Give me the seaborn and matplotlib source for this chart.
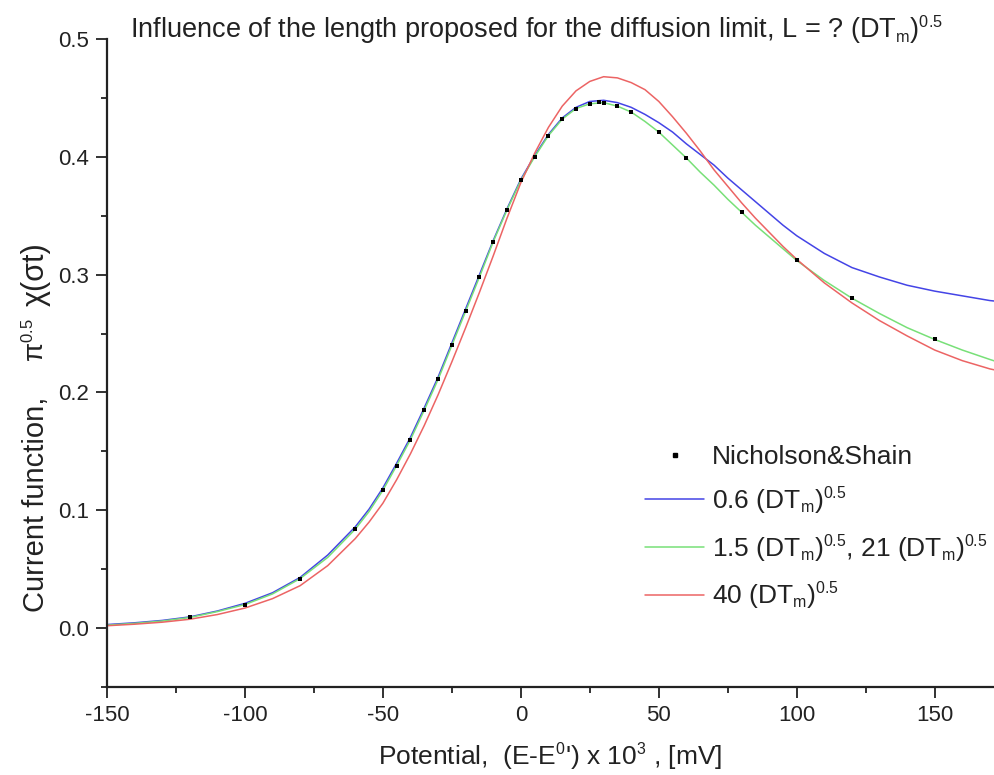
import numpy as np
import pandas as pd
import matplotlib
matplotlib.use("Agg")
import matplotlib.pyplot as plt
import matplotlib._mathtext as _mt
from matplotlib.ticker import MultipleLocator, FormatStrFormatter
from matplotlib.lines import Line2D
import seaborn as sns

# smaller sub/superscripts, like the reference
_mt.SHRINK_FACTOR = 0.6

# ---------------- data ----------------
ns_x = [-120, -100, -80, -60, -50, -45, -40, -35, -30, -25, -20, -15, -10, -5, 0,
        5, 10, 15, 20, 25, 28.5, 30, 35, 40, 50, 60, 80, 100, 120, 150]
ns_y = [0.009, 0.020, 0.042, 0.084, 0.117, 0.138, 0.160, 0.185, 0.211, 0.240, 0.269,
        0.298, 0.328, 0.355, 0.380, 0.400, 0.418, 0.432, 0.441, 0.445, 0.4463, 0.446,
        0.443, 0.438, 0.421, 0.399, 0.353, 0.312, 0.280, 0.245]

curve_x = [-150, -140, -130, -120, -110, -100, -90, -80, -70, -60, -55, -50, -45, -40,
           -35, -30, -25, -20, -15, -10, -5, 0, 5, 10, 15, 20, 25, 30, 35, 40, 45, 50,
           55, 60, 65, 70, 75, 80, 85, 90, 95, 100, 110, 120, 130, 140, 150, 160, 170, 172]

blue_y = [0.003, 0.0045, 0.0065, 0.0095, 0.0145, 0.021, 0.030, 0.043, 0.062, 0.086,
          0.101, 0.119, 0.140, 0.162, 0.187, 0.213, 0.242, 0.271, 0.300, 0.329, 0.356,
          0.381, 0.401, 0.419, 0.433, 0.442, 0.447, 0.448, 0.446, 0.442, 0.436, 0.429,
          0.421, 0.411, 0.402, 0.393, 0.382, 0.372, 0.362, 0.352, 0.342, 0.333, 0.318,
          0.306, 0.298, 0.291, 0.286, 0.282, 0.278, 0.2775]

green_y = [0.0025, 0.004, 0.006, 0.009, 0.014, 0.020, 0.029, 0.042, 0.060, 0.084,
           0.099, 0.117, 0.138, 0.160, 0.185, 0.211, 0.240, 0.269, 0.298, 0.328, 0.355,
           0.380, 0.400, 0.418, 0.432, 0.441, 0.445, 0.446, 0.443, 0.438, 0.430, 0.421,
           0.410, 0.399, 0.387, 0.376, 0.364, 0.353, 0.342, 0.332, 0.322, 0.312, 0.295,
           0.280, 0.267, 0.255, 0.245, 0.236, 0.228, 0.2265]

red_y = [0.002, 0.0033, 0.005, 0.0075, 0.0115, 0.017, 0.025, 0.036, 0.053, 0.076,
         0.090, 0.106, 0.126, 0.148, 0.172, 0.198, 0.226, 0.255, 0.285, 0.316, 0.348,
         0.378, 0.403, 0.425, 0.443, 0.456, 0.464, 0.468, 0.467, 0.463, 0.457, 0.447,
         0.434, 0.420, 0.405, 0.389, 0.375, 0.361, 0.348, 0.336, 0.324, 0.313, 0.293,
         0.276, 0.261, 0.248, 0.236, 0.227, 0.220, 0.219]

x_ticks = [-150, -100, -50, 0, 50, 100, 150]
y_ticks = [0.0, 0.1, 0.2, 0.3, 0.4, 0.5]

lab_ns = "Nicholson&Shain"
lab_blue = r"0.6 (DT$_\mathregular{m}$)$^\mathregular{0.5}$"
lab_green = r"1.5 (DT$_\mathregular{m}$)$^\mathregular{0.5}$, 21 (DT$_\mathregular{m}$)$^\mathregular{0.5}$"
lab_red = r"40 (DT$_\mathregular{m}$)$^\mathregular{0.5}$"

# ---------------- style ----------------
sns.set_style("ticks")
plt.rcParams["font.family"] = ["Liberation Sans", "DejaVu Sans"]
plt.rcParams["mathtext.fontset"] = "custom"
plt.rcParams["mathtext.rm"] = "Liberation Sans"
plt.rcParams["mathtext.it"] = "Liberation Sans:italic"
plt.rcParams["mathtext.bf"] = "Liberation Sans:bold"
plt.rcParams["axes.unicode_minus"] = False

TXT = "#222222"
fig = plt.figure(figsize=(9.94, 7.75), dpi=100)
ax = fig.add_axes([107 / 994, 1 - 687 / 775, 887 / 994, (687 - 39) / 775])

df = pd.DataFrame({
    "x": curve_x * 3,
    "y": blue_y + green_y + red_y,
    "series": [lab_blue] * len(curve_x) + [lab_green] * len(curve_x) + [lab_red] * len(curve_x),
})
palette = {lab_blue: "#4444e6", lab_green: "#78e078", lab_red: "#ec6464"}

sns.lineplot(data=df, x="x", y="y", hue="series", palette=palette, ax=ax,
             linewidth=1.1, sort=False, estimator=None, legend=False)
sns.scatterplot(x=ns_x, y=ns_y, ax=ax, color="black", marker="s", s=10,
                linewidth=0, zorder=5, legend=False)

ax.set_xlim(-150, 171.5)
ax.set_ylim(-0.05, 0.5)
ax.set_xticks(x_ticks)
ax.set_yticks(y_ticks)
ax.xaxis.set_minor_locator(MultipleLocator(25))
ax.yaxis.set_minor_locator(MultipleLocator(0.05))
ax.yaxis.set_major_formatter(FormatStrFormatter("%.1f"))
ax.tick_params(which="major", direction="out", length=8, width=1.3, labelsize=16,
               color=TXT, labelcolor=TXT, pad=5)
ax.tick_params(which="minor", direction="out", length=4, width=1.3, color=TXT)
for s in ["top", "right"]:
    ax.spines[s].set_visible(False)
for s in ["left", "bottom"]:
    ax.spines[s].set_linewidth(1.6)
    ax.spines[s].set_color(TXT)

ax.set_ylabel("")
ax.set_xlabel(r"Potential,  (E-E$^\mathregular{0}$') x 10$^\mathregular{3}$ , [mV]",
              fontsize=19, labelpad=11, color=TXT)

# y label in pieces (rotated), as in the reference
def ytext(s, ypix, size):
    fig.text(44 / 994, 1 - ypix / 775, s, rotation=90, rotation_mode="anchor",
             ha="left", va="baseline", fontsize=size, color=TXT)

ytext("Current function,", 612, 21)
ytext("\u03c0$^\\mathregular{0.5}$", 362, 20)
ytext("\u03c7(\u03c3t)", 306, 22)

fig.text(130 / 994, 1 - 38 / 775,
         r"Influence of the length proposed for the diffusion limit, L = ? (DT$_\mathregular{m}$)$^\mathregular{0.5}$",
         fontsize=19.5, ha="left", va="baseline", color=TXT)

# legend
handles = [
    Line2D([], [], marker="s", color="black", linestyle="none", markersize=3),
    Line2D([], [], color=palette[lab_blue], linewidth=1.1),
    Line2D([], [], color=palette[lab_green], linewidth=1.1),
    Line2D([], [], color=palette[lab_red], linewidth=1.1),
]
ax.legend(handles, [lab_ns, lab_blue, lab_green, lab_red], loc="upper left",
          bbox_to_anchor=(645 / 994, 1 - 445 / 775), bbox_transform=fig.transFigure,
          frameon=False, fontsize=19, handlelength=2.25, handletextpad=0.28,
          labelspacing=0.6, borderpad=0, borderaxespad=0, labelcolor=TXT)

fig.savefig("out.png", dpi=100)
